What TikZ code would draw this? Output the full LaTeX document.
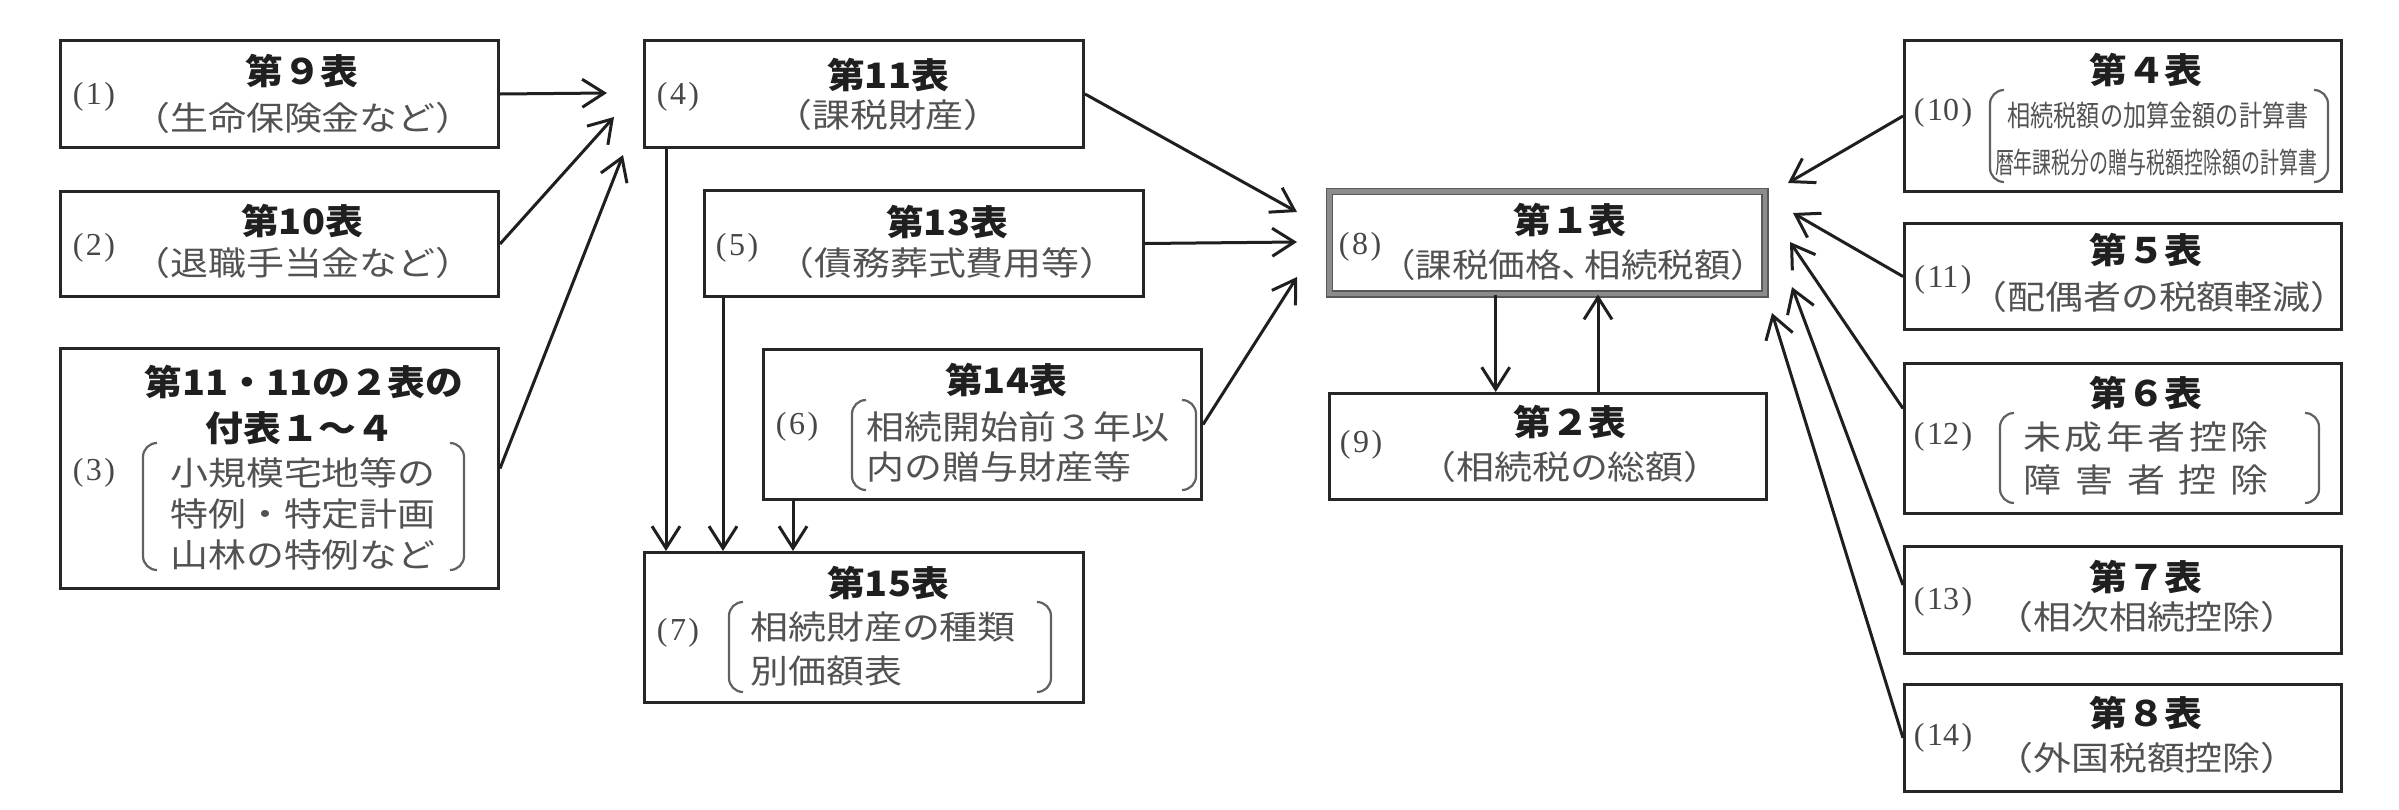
\documentclass[tikz,border=0pt]{standalone}
\usepackage{fontspec}
\usepackage{graphicx}
\setmainfont{Liberation Serif}
\newfontfamily\jp{Noto Sans CJK JP}
\newfontfamily\jpw{Noto Sans CJK JP}[FakeStretch=1.15]
\newfontfamily\jpt{Noto Sans CJK JP}[FakeStretch=1.08]
\usetikzlibrary{arrows.meta}
\tikzset{
  box/.style={draw=black!85, line width=3pt, anchor=north west, inner sep=0pt},
  dbox/.style={draw=black!65, line width=1.3pt, double=black!45, double distance=4.6pt, anchor=north west, inner sep=0pt},
  ttl/.style={font=\jpt\bfseries\fontsize{35}{40}\selectfont, text=black!88, inner sep=0pt},
  bdy/.style={font=\jpw\fontsize{33}{38}\selectfont, text=black!68, inner sep=0pt},
  sml/.style={font=\jp\fontsize{29}{32}\selectfont, text=black!68, inner sep=0pt},
  lbl/.style={font=\fontsize{32}{36}\selectfont, text=black!72, inner sep=0pt},
  arr/.style={draw=black!88, line width=3pt, -{Straight Barb[length=22pt,width=28pt]}},
  brk/.style={draw=black!62, line width=2.2pt, rounded corners=14pt},
}
\newcommand\lb[1]{(\kern2.5pt#1\kern2.5pt)}
\begin{document}
\begin{tikzpicture}[x=1pt,y=-1pt]
\useasboundingbox (0,0) rectangle (2399,809);
% ---------- boxes ----------
\node[box, minimum width=438pt, minimum height=107pt] (b1) at (59,39) {};
\node[box, minimum width=438pt, minimum height=105pt] (b2) at (59,190) {};
\node[box, minimum width=438pt, minimum height=240pt] (b3) at (59,347) {};
\node[box, minimum width=439pt, minimum height=107pt] (b4) at (643,39) {};
\node[box, minimum width=439pt, minimum height=106pt] (b5) at (703,189) {};
\node[box, minimum width=438pt, minimum height=150pt] (b6) at (762,348) {};
\node[box, minimum width=439pt, minimum height=150pt] (b7) at (643,551) {};
\node[dbox, minimum width=435.6pt, minimum height=102.6pt] (b8) at (1328.7,190.7) {};
\node[box, minimum width=437pt, minimum height=106pt] (b9) at (1328,392) {};
\node[box, minimum width=437pt, minimum height=151pt] (b10) at (1903,39) {};
\node[box, minimum width=437pt, minimum height=106pt] (b11) at (1903,222) {};
\node[box, minimum width=437pt, minimum height=150pt] (b12) at (1903,362) {};
\node[box, minimum width=437pt, minimum height=107pt] (b13) at (1903,545) {};
\node[box, minimum width=437pt, minimum height=107pt] (b14) at (1903,683) {};
% ---------- texts ----------
\node[ttl] (t1) at (302,71) {第９表};
\node[bdy] (s1) at (303,118) {（生命保険金など）};
\node[lbl] (l1) at (94,97) {\lb{1}};

\node[ttl] (t2) at (302,221) {第10表};
\node[bdy] (s2) at (303,263) {（退職手当金など）};
\node[lbl] (l2) at (94,248) {\lb{2}};

\node[ttl] (t3a) at (304,382) {第11・11の２表の};
\node[ttl] (t3b) at (300,428) {付表１～４};
\node[bdy] (s3a) at (303,473) {小規模宅地等の};
\node[bdy] (s3b) at (303,514) {特例・特定計画};
\node[bdy] (s3c) at (303,555) {山林の特例など};
\node[lbl] (l3) at (94,473) {\lb{3}};
\draw[brk] (157,443) -- (143,443) -- (143,570) -- (157,570);
\draw[brk] (450,443) -- (464,443) -- (464,570) -- (450,570);

\node[ttl] (t4) at (888,75) {第11表};
\node[bdy] (s4) at (888,115) {（課税財産）};
\node[lbl] (l4) at (678,97) {\lb{4}};

\node[ttl] (t5) at (947,222) {第13表};
\node[bdy] (s5) at (947,263) {（債務葬式費用等）};
\node[lbl] (l5) at (737,248) {\lb{5}};

\node[ttl] (t6) at (1006,380) {第14表};
\node[bdy, anchor=west] (s6a) at (866,427) {相続開始前３年以};
\node[bdy, anchor=west] (s6b) at (866,467) {内の贈与財産等};
\node[lbl] (l6) at (797,427) {\lb{6}};
\draw[brk] (866,400) -- (852,400) -- (852,490) -- (866,490);
\draw[brk] (1182,400) -- (1196,400) -- (1196,490) -- (1182,490);

\node[ttl] (t7) at (888,583) {第15表};
\node[bdy, anchor=west] (s7a) at (750,627) {相続財産の種類};
\node[bdy, anchor=west] (s7b) at (750,671) {別価額表};
\node[lbl] (l7) at (678,633) {\lb{7}};
\draw[brk] (743,602) -- (729,602) -- (729,692) -- (743,692);
\draw[brk] (1037,602) -- (1051,602) -- (1051,692) -- (1037,692);

\node[ttl] (t8) at (1570,220) {第１表};
\node[bdy] (s8) at (1573,265) {\kern-16pt\resizebox{388pt}{\height}{（課税価格、\kern-14pt相続税額）}\kern-16pt};
\node[lbl] (l8) at (1360,247) {\lb{8}};

\node[ttl] (t9) at (1570,422) {第２表};
\node[bdy] (s9) at (1570,467) {（相続税の総額）};
\node[lbl] (l9) at (1361,445) {\lb{9}};

\node[ttl] (t10) at (2146,70) {第４表};
\node[sml] (s10a) at (2158,115) {\resizebox{301pt}{\height}{相続税額の加算金額の計算書}};
\node[sml] (s10b) at (2156,162) {\resizebox{322pt}{\height}{暦年課税分の贈与税額控除額の計算書}};
\node[lbl] (l10) at (1943,113) {\lb{10}};
\draw[brk] (2004,90) -- (1990,90) -- (1990,182) -- (2004,182);
\draw[brk] (2314,90) -- (2328,90) -- (2328,182) -- (2314,182);

\node[ttl] (t11) at (2146,250) {第５表};
\node[bdy] (s11) at (2159,297) {（配偶者の税額軽減）};
\node[lbl] (l11) at (1943,280) {\lb{11}};

\node[ttl] (t12) at (2146,393) {第６表};
\node[bdy] (s12a) at (2146,437) {\makebox[245pt][s]{未\hfill 成\hfill 年\hfill 者\hfill 控\hfill 除}};
\node[bdy] (s12b) at (2146,480) {\makebox[245pt][s]{障\hfill 害\hfill 者\hfill 控\hfill 除}};
\node[lbl] (l12) at (1943,437) {\lb{12}};
\draw[brk] (2014,413) -- (2000,413) -- (2000,503) -- (2014,503);
\draw[brk] (2305,413) -- (2319,413) -- (2319,503) -- (2305,503);

\node[ttl] (t13) at (2146,577) {第７表};
\node[bdy] (s13) at (2147,617) {（相次相続控除）};
\node[lbl] (l13) at (1943,602) {\lb{13}};

\node[ttl] (t14) at (2146,713) {第８表};
\node[bdy] (s14) at (2147,758) {（外国税額控除）};
\node[lbl] (l14) at (1943,738) {\lb{14}};
% ---------- arrow end points ----------
\coordinate (h1) at (607,93);
\coordinate (h2) at (614,117);
\coordinate (h3) at (623,155);
\coordinate (h4) at (1297,212);
\coordinate (h5) at (1297,242);
\coordinate (h6) at (1297,277);
\coordinate (h10) at (1788,183);
\coordinate (h11) at (1793,213);
\coordinate (h12) at (1790,242);
\coordinate (h13) at (1792,287);
\coordinate (h14) at (1772,313);
\coordinate (v1) at ([xshift=23pt]b4.south west);
\coordinate (v2) at ([xshift=20pt]b5.south west);
\coordinate (v3) at ([xshift=31pt]b6.south west);
\coordinate (v8) at ([xshift=167pt]b8.south west);
\coordinate (v9) at ([xshift=270pt]b9.north west);
% ---------- connectors ----------
\draw[arr] (b1.east) -- (h1);
\draw[arr] (b2.east) -- (h2);
\draw[arr] (b3.east) -- (h3);
\draw[arr] (b4.east) -- (h4);
\draw[arr] (b5.east) -- (h5);
\draw[arr] (b6.east) -- (h6);
\draw[arr] (v1) -- (v1 |- b7.north);
\draw[arr] (v2) -- (v2 |- b7.north);
\draw[arr] (v3) -- (v3 |- b7.north);
\draw[arr] (v8) -- (v8 |- b9.north);
\draw[arr] (v9) -- (v9 |- b8.south);
\draw[arr] (b10.west) -- (h10);
\draw[arr] (b11.west) -- (h11);
\draw[arr] ([yshift=30pt]b12.west) -- (h12);
\draw[arr] ([yshift=15pt]b13.west) -- (h13);
\draw[arr] (b14.west) -- (h14);
\end{tikzpicture}
\end{document}
